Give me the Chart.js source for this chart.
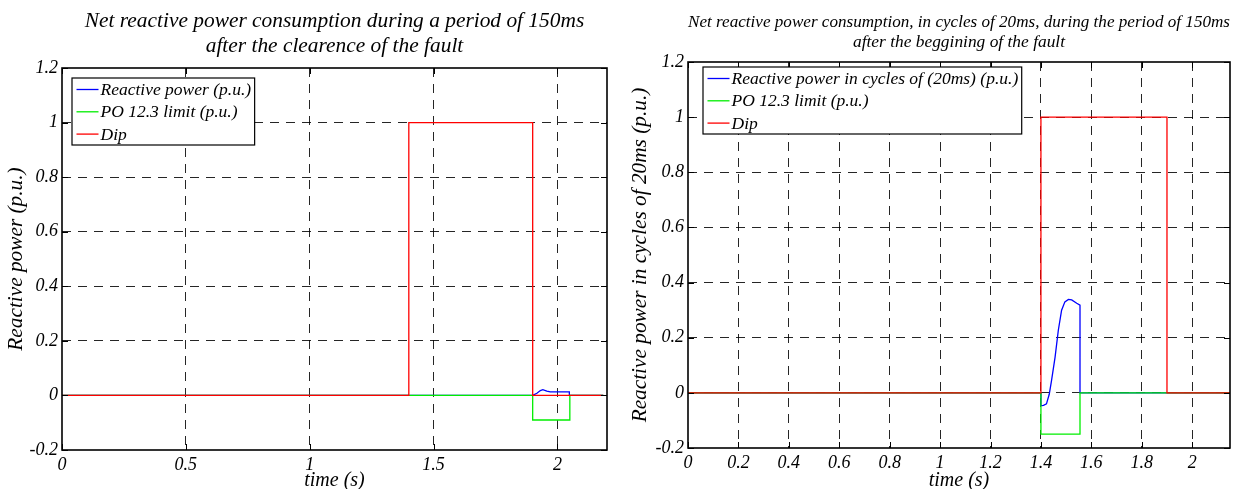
<!DOCTYPE html>
<html>
<head>
<meta charset="utf-8">
<script src="https://cdn.jsdelivr.net/npm/chart.js@4.4.0/dist/chart.umd.min.js"></script>
<style>
body { margin: 0; background: #fff; }
#left { position: absolute; left: 0; top: 0; width: 620px; height: 489px; }
#right { position: absolute; left: 620px; top: 0; width: 613px; height: 489px; }
</style>
</head>
<body>
<div id="left"><canvas id="chart1"></canvas></div>
<div id="right"><canvas id="chart2"></canvas></div>
<script>
// left plot - 150ms after clearance of the fault
var t1Reactive = [0, 1.9, 1.917, 1.931, 1.941, 1.957, 1.971, 2.048, 2.048, 2.185];
var v1Reactive = [0, 0, 0.008, 0.018, 0.021, 0.016, 0.013, 0.013, 0, 0];
var t1Limit = [0, 1.9, 1.9, 2.05, 2.05, 2.185];
var v1Limit = [0, 0, -0.09, -0.09, 0, 0];
var t1Dip = [0, 1.4, 1.4, 1.9, 1.9, 2.185];
var v1Dip = [0, 0, 1, 1, 0, 0];
var xTicks1 = [0, 0.5, 1, 1.5, 2];

// right plot - cycles of 20ms after beginning of the fault
var t2Reactive = [0, 1.4, 1.4, 1.41, 1.422, 1.433, 1.442, 1.456, 1.469, 1.482, 1.495, 1.509, 1.522, 1.542, 1.555, 1.555, 2.15];
var v2Reactive = [0, 0, -0.047, -0.045, -0.04, -0.005, 0.044, 0.129, 0.227, 0.3, 0.33, 0.339, 0.337, 0.325, 0.318, 0, 0];
var t2Limit = [0, 1.4, 1.4, 1.555, 1.555, 2.15];
var v2Limit = [0, 0, -0.15, -0.15, 0, 0];
var t2Dip = [0, 1.4, 1.4, 1.9, 1.9, 2.15];
var v2Dip = [0, 0, 1, 1, 0, 0];
var xTicks2 = [0, 0.2, 0.4, 0.6, 0.8, 1, 1.2, 1.4, 1.6, 1.8, 2];

var yTicks = [-0.2, 0, 0.2, 0.4, 0.6, 0.8, 1, 1.2];

var FONT = 'Liberation Serif';

function pts(t, v) {
	var out = [];
	for (var i in t) out.push({x: t[i], y: v[i]});
	return out;
}

// box, inward ticks and the legend box like matlab
var framePlugin = {
	id: 'frame',
	afterDatasetsDraw: function(chart, args, o) {
		var a = chart.chartArea, ctx = chart.ctx;
		var xs = chart.scales.x, ys = chart.scales.y;
		ctx.save();
		ctx.strokeStyle = '#000';
		ctx.lineWidth = 1;
		ctx.beginPath();
		xs.ticks.forEach(function(t) {
			var px = Math.round(xs.getPixelForValue(t.value)) + 0.5;
			ctx.moveTo(px, a.bottom); ctx.lineTo(px, a.bottom - 6);
			ctx.moveTo(px, a.top); ctx.lineTo(px, a.top + 6);
		});
		ys.ticks.forEach(function(t) {
			var py = Math.round(ys.getPixelForValue(t.value)) + 0.5;
			ctx.moveTo(a.left, py); ctx.lineTo(a.left + 6, py);
			ctx.moveTo(a.right, py); ctx.lineTo(a.right - 6, py);
		});
		ctx.stroke();
		ctx.lineWidth = 1.6;
		ctx.strokeRect(a.left, a.top, a.right - a.left, a.bottom - a.top);

		// legend
		ctx.font = 'italic 17.5px "' + FONT + '"';
		var ds = chart.data.datasets;
		var w = 0;
		ds.forEach(function(d) { w = Math.max(w, ctx.measureText(d.label).width); });
		var bx = a.left + o.dx, by = a.top + o.dy;
		var bw = w + 32, bh = 67;
		ctx.fillStyle = '#fff';
		ctx.fillRect(bx, by, bw, bh);
		ctx.lineWidth = 1.2;
		ctx.strokeStyle = '#000';
		ctx.strokeRect(bx, by, bw, bh);
		ctx.textBaseline = 'middle';
		ds.forEach(function(d, i) {
			var y = by + 11.5 + i * 22.3;
			ctx.strokeStyle = d.borderColor;
			ctx.lineWidth = 1.3;
			ctx.beginPath();
			ctx.moveTo(bx + 4.5, y); ctx.lineTo(bx + 26.5, y);
			ctx.stroke();
			ctx.fillStyle = '#000';
			ctx.fillText(d.label, bx + 28.5, y + 1);
		});
		ctx.restore();
	}
};

function makeChart(id, cfg) {
	var ctx = document.getElementById(id);
	return new Chart(ctx, {
		type: 'line',
		data: {
			datasets: [
				{ label: cfg.labels[0], data: cfg.reactive, borderColor: '#0000ff', order: 3 },
				{ label: cfg.labels[1], data: cfg.limit, borderColor: '#00ee00', order: 2 },
				{ label: cfg.labels[2], data: cfg.dip, borderColor: '#ff0000', order: 1 }
			]
		},
		options: {
			responsive: true,
			maintainAspectRatio: false,
			animation: false,
			layout: { padding: { left: 0, right: cfg.padRight, top: 0, bottom: 0 } },
			elements: {
				line: { borderWidth: 1.3, tension: 0, fill: false },
				point: { radius: 0 }
			},
			plugins: {
				legend: { display: false },
				tooltip: { enabled: false },
				title: {
					display: true,
					text: cfg.title,
					fullSize: false,
					color: '#000',
					font: { family: FONT, style: 'italic', weight: 'normal', size: cfg.titleSize, lineHeight: cfg.titleLine },
					padding: cfg.titlePad
				},
				frame: { dx: cfg.legendDx, dy: cfg.legendDy }
			},
			scales: {
				x: {
					type: 'linear',
					min: 0,
					max: cfg.xMax,
					afterBuildTicks: function(s) { s.ticks = cfg.xTicks.map(function(v) { return {value: v}; }); },
					afterFit: function(s) { s.height = cfg.xHeight; },
					border: { display: false, dash: [9, 7] },
					grid: {
						drawTicks: false,
						color: function(c) { return (c.tick && c.tick.value === 0) ? 'rgba(0,0,0,0)' : 'rgba(0,0,0,0.85)'; },
						lineWidth: 1
					},
					ticks: {
						padding: 4,
						color: '#000',
						maxRotation: 0,
						font: { family: FONT, style: 'italic', size: 18, lineHeight: 1.2 },
						callback: function(v) { return String(v); }
					},
					title: {
						display: true,
						text: 'time (s)',
						color: '#000',
						font: { family: FONT, style: 'italic', size: 20, lineHeight: 1 },
						padding: { top: 0, bottom: cfg.xTitlePad }
					}
				},
				y: {
					min: -0.2,
					max: 1.2,
					afterBuildTicks: function(s) { s.ticks = yTicks.map(function(v) { return {value: v}; }); },
					afterFit: function(s) { s.width = cfg.yWidth; },
					border: { display: false, dash: [9, 7] },
					grid: {
						drawTicks: false,
						color: function(c) {
							var v = c.tick ? c.tick.value : null;
							return (v === -0.2 || v === 1.2) ? 'rgba(0,0,0,0)' : 'rgba(0,0,0,0.85)';
						},
						lineWidth: 1
					},
					ticks: {
						padding: 4,
						color: '#000',
						font: { family: FONT, style: 'italic', size: 18 },
						callback: function(v) { return String(v); }
					},
					title: {
						display: true,
						text: cfg.yTitle,
						color: '#000',
						font: { family: FONT, style: 'italic', size: 21.3, lineHeight: 1.2 },
						padding: { top: cfg.yTitlePad, bottom: 0 }
					}
				}
			}
		},
		plugins: [framePlugin]
	});
}

makeChart('chart1', {
	labels: ['Reactive power (p.u.)', 'PO 12.3 limit (p.u.)', 'Dip'],
	reactive: pts(t1Reactive, v1Reactive),
	limit: pts(t1Limit, v1Limit),
	dip: pts(t1Dip, v1Dip),
	title: ['Net reactive power consumption during a period of 150ms', 'after the clearence of the fault'],
	titleSize: 21.4, titleLine: '25px',
	titlePad: { top: 8.5, bottom: 9.5 },
	xMax: 2.2, xTicks: xTicks1,
	padRight: 13, xHeight: 39, yWidth: 62,
	xTitlePad: -2,
	yTitle: 'Reactive power (p.u.)', yTitlePad: 4,
	legendDx: 10, legendDy: 10
});

makeChart('chart2', {
	labels: ['Reactive power in cycles of (20ms) (p.u.)', 'PO 12.3 limit (p.u.)', 'Dip'],
	reactive: pts(t2Reactive, v2Reactive),
	limit: pts(t2Limit, v2Limit),
	dip: pts(t2Dip, v2Dip),
	title: ['Net reactive power consumption, in cycles of 20ms, during the period of 150ms', 'after the beggining of the fault'],
	titleSize: 17.4, titleLine: '20px',
	titlePad: { top: 12, bottom: 10 },
	xMax: 2.15, xTicks: xTicks2,
	padRight: 3, xHeight: 41, yWidth: 68,
	xTitlePad: -2,
	yTitle: 'Reactive power in cycles of 20ms (p.u.)', yTitlePad: 8,
	legendDx: 15, legendDy: 5
});
</script>
</body>
</html>
